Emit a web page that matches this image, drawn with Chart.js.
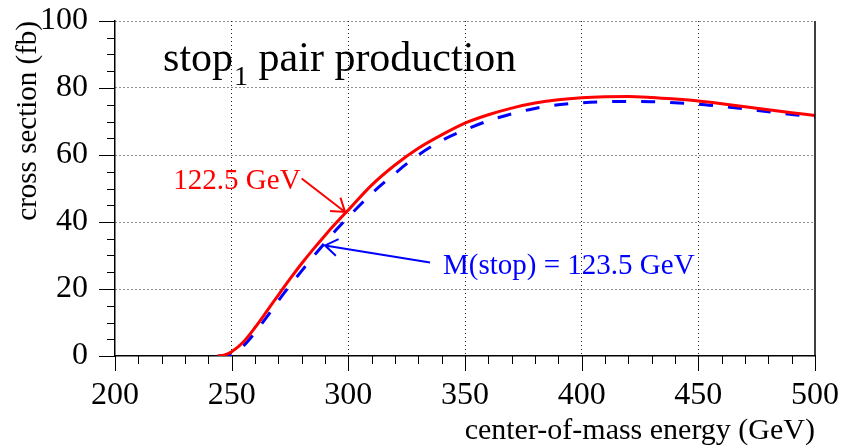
<!DOCTYPE html>
<html>
<head>
<meta charset="utf-8">
<script src="https://cdn.jsdelivr.net/npm/chart.js@4"></script>
<style>
  html, body { margin: 0; padding: 0; background: #fff; }
  #wrap { width: 843px; height: 448px; }
</style>
</head>
<body>
<div id="wrap"><canvas id="xsecChart" width="843" height="448"></canvas></div>
<script>
// center-of-mass energy (GeV)
const energies = [244, 247, 250, 255, 260, 265, 270, 275, 280, 285, 290, 295, 300,
    310, 320, 330, 340, 350, 360, 370, 380, 390, 400, 410, 420, 430, 440, 450, 460, 470, 480, 490, 500];
// cross section (fb), M(stop) = 122.5 GeV
const xsec1225 = [0, 0.3, 1.3, 4.2, 8.5, 13.3, 18.2, 23, 27.6, 31.9, 36, 39.9, 43.6,
    51, 57, 62, 66, 69.5, 72, 74, 75.5, 76.5, 77.1, 77.4, 77.5, 77.2, 76.7, 76.1, 75.3, 74.4, 73.5, 72.6, 71.8];
// cross section (fb), M(stop) = 123.5 GeV
const xsec1235 = [0, 0.05, 0.3, 3, 7.0, 11.6, 16.5, 21.1, 25.4, 29.7, 33.8, 37.8, 41.5,
    48.5, 54.5, 60, 64.3, 67.5, 70.2, 72.3, 73.9, 75.0, 75.6, 75.9, 76.0, 75.9, 75.6, 75.2, 74.5, 73.8, 72.9, 72.1, 71.3];

const xLabels = [200, 250, 300, 350, 400, 450, 500];
const yLabels = [0, 20, 40, 60, 80, 100];

const serif = '"Liberation Serif", "Times New Roman", serif';

// annotation placement in data units (GeV, fb)
const notes = {
    title: { x: 220.6, y: 85.1 },
    red: { x: 225, y: 50.0, tail: [280.0, 53.0], tip: [298.6, 43.0] },
    blue: { x: 340.6, y: 24.6, tail: [335.0, 27.9], tip: [290.0, 33.0] }
};

function arrow(ctx, x1, y1, x2, y2, color) {
    const a = Math.atan2(y2 - y1, x2 - x1);
    const len = 15, spread = 0.6;
    ctx.save();
    ctx.strokeStyle = color;
    ctx.lineWidth = 2;
    ctx.beginPath();
    ctx.moveTo(x1, y1);
    ctx.lineTo(x2, y2);
    ctx.moveTo(x2 - len * Math.cos(a - spread), y2 - len * Math.sin(a - spread));
    ctx.lineTo(x2, y2);
    ctx.lineTo(x2 - len * Math.cos(a + spread), y2 - len * Math.sin(a + spread));
    ctx.stroke();
    ctx.restore();
}

const framePlugin = {
    id: 'frame',
    afterDraw(chart) {
        const ctx = chart.ctx;
        const { x, y } = chart.scales;
        const area = chart.chartArea;
        ctx.save();
        ctx.strokeStyle = '#000';
        ctx.lineWidth = 1;
        // tick marks: long on labelled values, short otherwise
        x.ticks.forEach(t => {
            const px = Math.round(x.getPixelForValue(t.value)) + 0.5;
            const len = xLabels.includes(t.value) ? 15 : 8;
            ctx.beginPath();
            ctx.moveTo(px, area.bottom);
            ctx.lineTo(px, area.bottom + len);
            ctx.stroke();
        });
        y.ticks.forEach(t => {
            const py = Math.round(y.getPixelForValue(t.value)) + 0.5;
            const len = yLabels.includes(t.value) ? 16 : 8;
            ctx.beginPath();
            ctx.moveTo(area.left - len, py);
            ctx.lineTo(area.left, py);
            ctx.stroke();
        });
        // solid right edge
        ctx.lineWidth = 1.5;
        ctx.beginPath();
        ctx.moveTo(area.right, area.top);
        ctx.lineTo(area.right, area.bottom);
        ctx.stroke();
        ctx.restore();

        // title with subscript
        ctx.save();
        ctx.fillStyle = '#000';
        ctx.textBaseline = 'alphabetic';
        let tx = x.getPixelForValue(notes.title.x);
        const ty = y.getPixelForValue(notes.title.y);
        ctx.font = '42px ' + serif;
        ctx.fillText('stop', tx, ty);
        tx += ctx.measureText('stop').width;
        ctx.font = '28px ' + serif;
        ctx.fillText('1', tx + 1, ty + 14);
        tx += ctx.measureText('1').width + 1;
        ctx.font = '42px ' + serif;
        ctx.fillText(' pair production', tx, ty);

        // curve labels
        ctx.font = '29px ' + serif;
        ctx.fillStyle = '#ff0000';
        ctx.fillText('122.5 GeV', x.getPixelForValue(notes.red.x), y.getPixelForValue(notes.red.y));
        ctx.fillStyle = '#0000ff';
        ctx.fillText('M(stop) = 123.5 GeV', x.getPixelForValue(notes.blue.x), y.getPixelForValue(notes.blue.y));
        ctx.restore();

        arrow(ctx, x.getPixelForValue(notes.red.tail[0]), y.getPixelForValue(notes.red.tail[1]),
            x.getPixelForValue(notes.red.tip[0]), y.getPixelForValue(notes.red.tip[1]), '#ff0000');
        arrow(ctx, x.getPixelForValue(notes.blue.tail[0]), y.getPixelForValue(notes.blue.tail[1]),
            x.getPixelForValue(notes.blue.tip[0]), y.getPixelForValue(notes.blue.tip[1]), '#0000ff');
    }
};

const ctx = document.getElementById('xsecChart').getContext('2d');
new Chart(ctx, {
    type: 'line',
    data: {
        datasets: [{
            label: '122.5 GeV',
            data: energies.map((e, i) => ({ x: e, y: xsec1225[i] })),
            borderColor: '#ff0000',
            borderWidth: 3,
            pointRadius: 0,
            cubicInterpolationMode: 'monotone'
        }, {
            label: '123.5 GeV',
            data: energies.map((e, i) => ({ x: e, y: xsec1235[i] })),
            borderColor: '#0000ff',
            borderWidth: 3,
            borderDash: [14, 15],
            pointRadius: 0,
            cubicInterpolationMode: 'monotone'
        }]
    },
    options: {
        responsive: false,
        animation: false,
        layout: { padding: { top: 21, right: 28, left: 0, bottom: 0 } },
        plugins: { legend: { display: false }, tooltip: { enabled: false } },
        scales: {
            x: {
                type: 'linear',
                min: 200,
                max: 500,
                afterFit(scale) {
                    scale.height = 92;
                    scale.paddingLeft = 0;
                    scale.paddingRight = 0;
                },
                ticks: {
                    stepSize: 10,
                    autoSkip: false,
                    maxRotation: 0,
                    padding: 20,
                    color: '#000',
                    font: { family: serif, size: 32 },
                    callback: v => xLabels.includes(v) ? String(v) : ''
                },
                grid: {
                    drawTicks: false,
                    lineWidth: 1,
                    color: c => (c.tick && xLabels.includes(c.tick.value) && c.tick.value !== 200 && c.tick.value !== 500) ? '#222' : 'rgba(0,0,0,0)'
                },
                border: { display: true, color: '#000', width: 1.5, dash: [1, 3] },
                title: {
                    display: true,
                    text: 'center-of-mass energy (GeV)',
                    align: 'end',
                    color: '#000',
                    font: { family: serif, size: 30, lineHeight: 1 },
                    padding: { top: 0, bottom: 2 }
                }
            },
            y: {
                min: 0,
                max: 100,
                afterFit(scale) {
                    scale.width = 115;
                    scale.paddingTop = 0;
                    scale.paddingBottom = 0;
                },
                ticks: {
                    stepSize: 5,
                    autoSkip: false,
                    padding: 27,
                    color: '#000',
                    font: { family: serif, size: 32 },
                    callback: v => yLabels.includes(v) ? String(v) : ''
                },
                grid: {
                    drawTicks: false,
                    lineWidth: 1,
                    color: c => (c.tick && yLabels.includes(c.tick.value) && c.tick.value !== 0) ? '#222' : 'rgba(0,0,0,0)'
                },
                border: { display: true, color: '#000', width: 1.5, dash: [1, 3] },
                title: {
                    display: true,
                    text: 'cross section (fb)',
                    align: 'end',
                    color: '#000',
                    font: { family: serif, size: 29, lineHeight: 1 },
                    padding: { top: 14, bottom: 0 }
                }
            }
        }
    },
    plugins: [framePlugin]
});
</script>
</body>
</html>
